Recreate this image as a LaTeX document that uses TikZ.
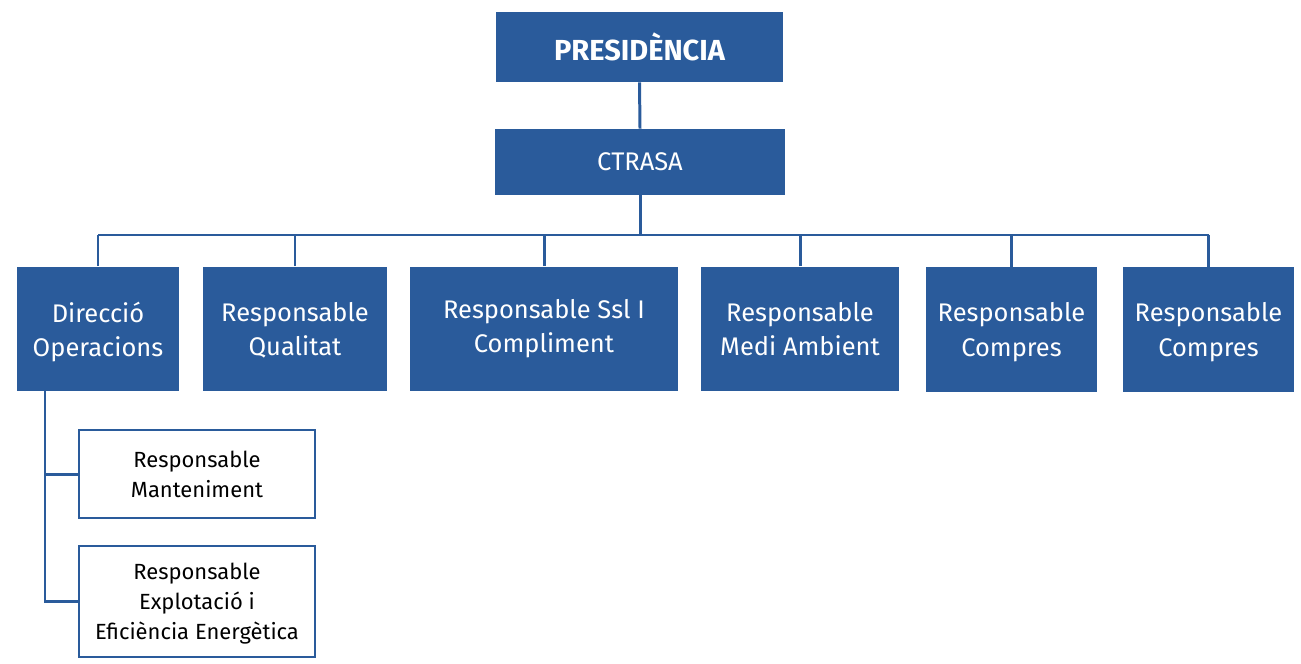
\documentclass[tikz,border=0pt]{standalone}
\usepackage{fontspec}
\setmainfont{Fira Sans}
\definecolor{orgblue}{HTML}{2A5B9B}
\tikzset{
  unit/.style={rectangle,fill=orgblue,text=white,align=center,inner sep=2pt},
  subunit/.style={rectangle,draw=orgblue,line width=1.4pt,fill=white,text=black,align=center,inner sep=2pt,
    minimum width=4.72cm,font=\fontsize{12.5}{17}\selectfont},
  link/.style={draw=orgblue,line width=1.7pt}
}
\begin{document}
\begin{tikzpicture}[x=0.02cm,y=-0.02cm]
  \useasboundingbox (0,0) rectangle (1301,663);
  \begin{scope}[every node/.style={unit}]
    \node[minimum width=5.74cm,minimum height=1.40cm,font=\fontsize{16.5}{20}\selectfont\bfseries] (pres) at (639.5,47) {PRESIDÈNCIA};
    \node[minimum width=5.80cm,minimum height=1.32cm,font=\fontsize{14.5}{19}\selectfont] (ctrasa) at (640,162) {CTRASA};
  \end{scope}
  \begin{scope}[every node/.style={unit,minimum height=2.5cm,font=\fontsize{14.5}{19.5}\selectfont}]
    \node[minimum width=3.24cm,text depth=-0.05cm] (dir) at (98,329) {Direcció\\Operacions};
    \node[minimum width=3.68cm,text depth=-0.16cm] (qual) at (295,329) {Responsable\\Qualitat};
    \node[minimum width=5.36cm] (ssl) at (544,329) {Responsable Ssl I\\Compliment};
    \node[minimum width=3.96cm,text depth=-0.04cm] (medi) at (800,329) {Responsable\\Medi Ambient};
    \node[minimum width=3.42cm,text depth=-0.17cm] (compA) at (1011.5,329.5) {Responsable\\Compres};
    \node[minimum width=3.42cm,text depth=-0.17cm] (compB) at (1208.5,329.5) {Responsable\\Compres};
  \end{scope}
  \node[subunit,minimum height=1.76cm] (mant) at (197,474) {Responsable\\Manteniment};
  \node[subunit,minimum height=2.22cm,text depth=-0.02cm] (expl) at (197,601.5) {Responsable\\Explotació i\\Eficiència Energètica};
  \coordinate (bus) at (640,235);
  \coordinate (trunk) at (45,391);
  \begin{scope}[every path/.style={link}]
    \path (pres.south) -- (ctrasa.north);
    \path (ctrasa.south) -- (bus);
    \path (dir.north |- bus) -- (compB.north |- bus);
    \foreach \n in {dir,qual,ssl,medi,compA,compB}
      \path (\n.north) -- (\n.north |- bus);
    \path (trunk) |- (expl.west);
    \path (trunk |- mant.west) -- (mant.west);
  \end{scope}
\end{tikzpicture}
\end{document}
